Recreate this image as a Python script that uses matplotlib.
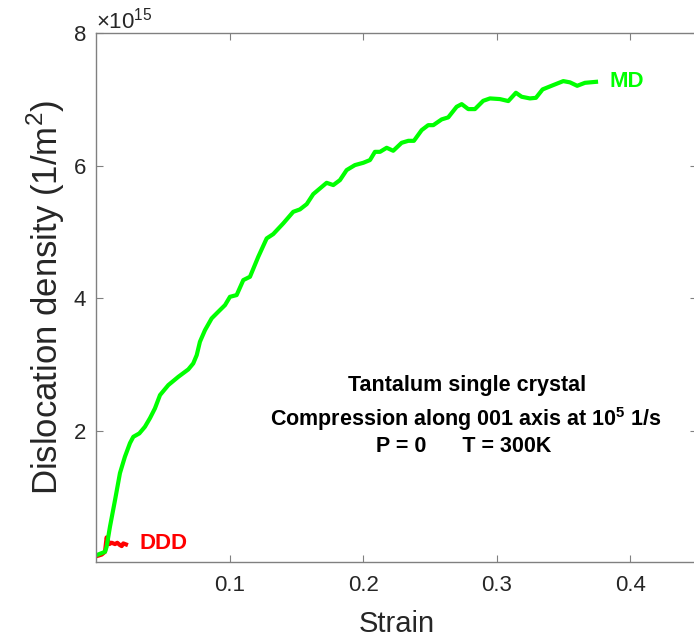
"""Dislocation density vs strain: MD vs DDD for tantalum."""

import matplotlib
matplotlib.use("Agg")
import matplotlib.pyplot as plt
from matplotlib.ticker import ScalarFormatter

plt.rcParams["font.family"] = ["Liberation Sans", "DejaVu Sans"]
plt.rcParams["mathtext.fontset"] = "custom"
plt.rcParams["mathtext.rm"] = "Liberation Sans"
plt.rcParams["mathtext.bf"] = "Liberation Sans:bold"

# MD curve (strain, density in 1e15 1/m^2)
md_strain = [0.0002, 0.0064, 0.0076, 0.0101, 0.0139, 0.0176, 0.0213, 0.0251,
             0.0276, 0.0321, 0.0363, 0.0401, 0.0438, 0.0476, 0.0538, 0.0613,
             0.0688, 0.0725, 0.0751, 0.0775, 0.0813, 0.0863, 0.0912, 0.0963,
             0.1000, 0.1050, 0.1100, 0.1150, 0.1212, 0.1275, 0.1324, 0.1399,
             0.1474, 0.1524, 0.1575, 0.1624, 0.1724, 0.1774, 0.1824, 0.1874,
             0.1936, 0.1999, 0.2049, 0.2086, 0.2124, 0.2174, 0.2223, 0.2286,
             0.2336, 0.2378, 0.2436, 0.2485, 0.2523, 0.2586, 0.2635, 0.2698,
             0.2736, 0.2785, 0.2835, 0.2897, 0.2948, 0.3022, 0.3085, 0.3142,
             0.3185, 0.3247, 0.3292, 0.3342, 0.3422, 0.3497, 0.3547, 0.3601,
             0.3659, 0.3742]
md_density = [0.131, 0.181, 0.256, 0.558, 0.960, 1.367, 1.613, 1.819,
              1.914, 1.965, 2.065, 2.196, 2.342, 2.543, 2.693, 2.818,
              2.930, 3.020, 3.145, 3.346, 3.522, 3.699, 3.798, 3.899,
              4.024, 4.050, 4.276, 4.326, 4.627, 4.904, 4.969, 5.130,
              5.305, 5.341, 5.421, 5.572, 5.742, 5.708, 5.783, 5.934,
              6.009, 6.044, 6.085, 6.209, 6.209, 6.270, 6.225, 6.345,
              6.375, 6.375, 6.536, 6.611, 6.611, 6.698, 6.728, 6.888,
              6.928, 6.853, 6.853, 6.978, 7.014, 7.004, 6.974, 7.099,
              7.039, 7.014, 7.023, 7.150, 7.215, 7.275, 7.256, 7.204,
              7.249, 7.264]

# DDD curve
ddd_strain = [0.0002, 0.0039, 0.0064, 0.0071, 0.0076, 0.0086, 0.0096, 0.0114,
              0.0139, 0.0156, 0.0176, 0.0189, 0.0201, 0.0221]
ddd_density = [0.116, 0.139, 0.181, 0.307, 0.398, 0.357, 0.297, 0.317,
               0.297, 0.317, 0.282, 0.267, 0.307, 0.292]

scale = 1e15
green = "#00ff00"
red = "#ff0000"
dark = "#262626"

fig = plt.figure(figsize=(6.94, 6.37), dpi=100)
ax = fig.add_axes([0.139, 0.117, 0.8656, 0.8312])

ax.plot(ddd_strain, [v * scale for v in ddd_density], color=red, lw=3)
ax.plot(md_strain, [v * scale for v in md_density], color=green, lw=3)

ax.set_xlim(0, 0.45)
ax.set_ylim(0.02 * scale, 8 * scale)
ax.set_xticks([0.1, 0.2, 0.3, 0.4])
ax.set_yticks([2 * scale, 4 * scale, 6 * scale, 8 * scale])
fmt = ScalarFormatter(useMathText=True)
fmt.set_powerlimits((0, 0))
ax.yaxis.set_major_formatter(fmt)
ax.yaxis.get_offset_text().set_fontsize(16)
ax.yaxis.get_offset_text().set_color(dark)

ax.tick_params(direction="in", top=True, right=True, length=5, width=0.8,
               color="#808080", labelsize=16, labelcolor=dark)
ax.tick_params(axis="x", pad=9)
ax.tick_params(axis="y", pad=7)
for sp in ax.spines.values():
    sp.set_color("#808080")
    sp.set_linewidth(1)

ax.set_xlabel("Strain", fontsize=21, color=dark, labelpad=10)
ax.set_ylabel("Dislocation density (1/m$^2$)", fontsize=25, color=dark, labelpad=4)

ax.text(0.3846, 7.275 * scale, "MD", color=green, fontsize=16,
        fontweight="bold", ha="left", va="center")
ax.text(0.0326, 0.312 * scale, "DDD", color=red, fontsize=16,
        fontweight="bold", ha="left", va="center")

tx = fig.transFigure
ax.text(467 / 694, 1 - 386 / 637, "Tantalum single crystal", transform=tx,
        fontsize=15.5, fontweight="bold", ha="center", va="center")
ax.text(466 / 694, 1 - 419 / 637,
        r"Compression along 001 axis at 10$^{\mathbf{5}}$ 1/s", transform=tx,
        fontsize=15.5, fontweight="bold", ha="center", va="center")
ax.text(464 / 694, 1 - 447 / 637, "P = 0      T = 300K", transform=tx,
        fontsize=15.5, fontweight="bold", ha="center", va="center")

fig.savefig("out.png", dpi=100)
plt.close(fig)
